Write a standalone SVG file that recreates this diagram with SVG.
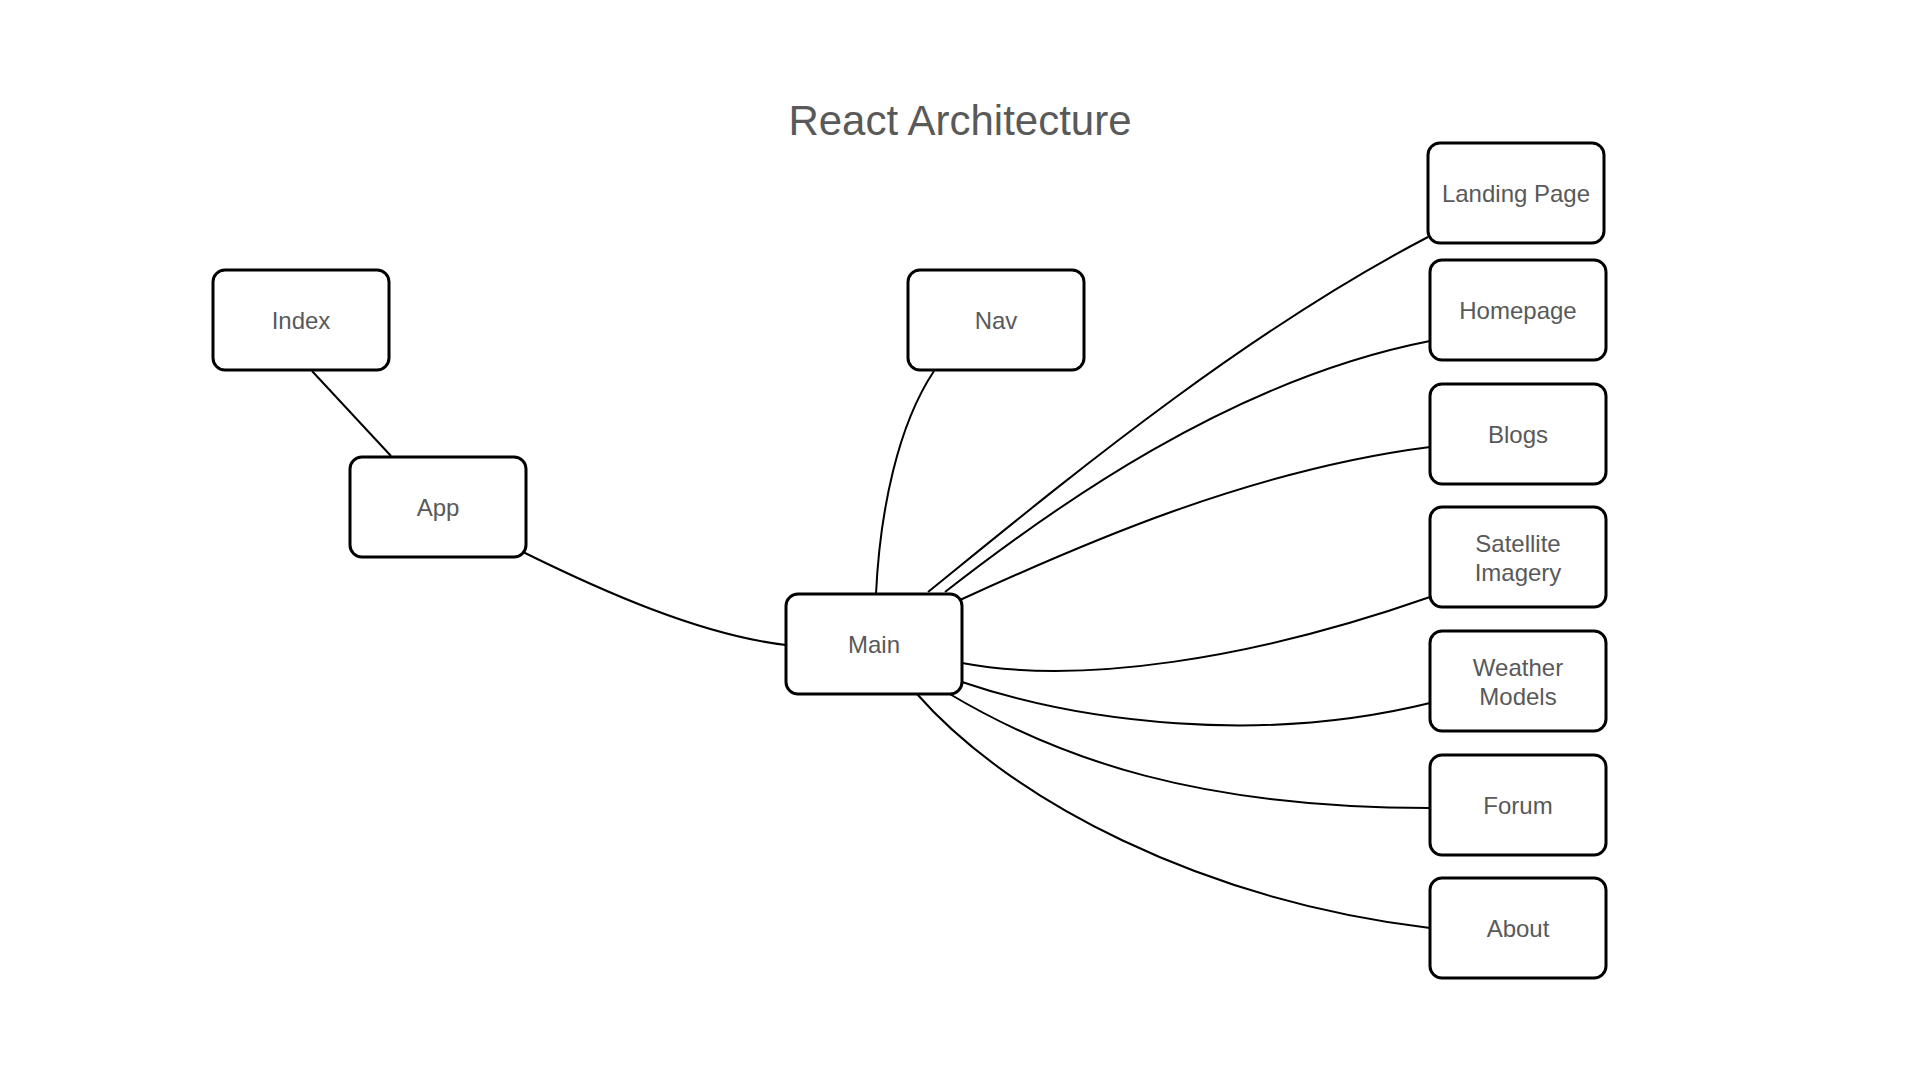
<svg xmlns="http://www.w3.org/2000/svg" width="1920" height="1080" viewBox="0 0 1920 1080">
<style>
.box{fill:#fff;stroke:#000;stroke-width:3}
.lbl{font-family:"Liberation Sans",Arial,sans-serif;font-size:24px;fill:#595959;text-anchor:middle}
.title{font-family:"Liberation Sans",Arial,sans-serif;font-size:42px;fill:#595959;text-anchor:middle}
.edge{fill:none;stroke:#000;stroke-width:2}
</style>
<rect width="1920" height="1080" fill="#fff"/>
<text class="title" x="960" y="135">React Architecture</text>
<g id="connectors">
<path class="edge" d="M312,371 L391,456"/>
<path class="edge" d="M523,552 C600,590 700,635 786,645"/>
<path class="edge" d="M934,371 C898,425 880,510 876,594"/>
<path class="edge" d="M928,592 C1060,485 1240,335 1428,237"/>
<path class="edge" d="M945,592 C1050,510 1230,380 1430,341"/>
<path class="edge" d="M960,600 C1080,545 1250,470 1430,447"/>
<path class="edge" d="M962,663 C1080,685 1250,660 1430,597"/>
<path class="edge" d="M962,682 C1080,722 1260,745 1430,703"/>
<path class="edge" d="M948,693 C1060,760 1200,808 1430,808"/>
<path class="edge" d="M917,694 C1010,800 1200,900 1430,928"/>
</g>
<g id="index"><rect class="box" x="213" y="270" width="176" height="100" rx="12"/><text class="lbl" x="301" y="329">Index</text></g>
<g id="app"><rect class="box" x="350" y="457" width="176" height="100" rx="12"/><text class="lbl" x="438" y="516">App</text></g>
<g id="nav"><rect class="box" x="908" y="270" width="176" height="100" rx="12"/><text class="lbl" x="996" y="329">Nav</text></g>
<g id="main"><rect class="box" x="786" y="594" width="176" height="100" rx="12"/><text class="lbl" x="874" y="653">Main</text></g>
<g id="landing"><rect class="box" x="1428" y="143" width="176" height="100" rx="12"/><text class="lbl" x="1516" y="202">Landing Page</text></g>
<g id="homepage"><rect class="box" x="1430" y="260" width="176" height="100" rx="12"/><text class="lbl" x="1518" y="319">Homepage</text></g>
<g id="blogs"><rect class="box" x="1430" y="384" width="176" height="100" rx="12"/><text class="lbl" x="1518" y="443">Blogs</text></g>
<g id="satellite"><rect class="box" x="1430" y="507" width="176" height="100" rx="12"/><text class="lbl" x="1518" y="552">Satellite</text><text class="lbl" x="1518" y="581">Imagery</text></g>
<g id="weather"><rect class="box" x="1430" y="631" width="176" height="100" rx="12"/><text class="lbl" x="1518" y="676">Weather</text><text class="lbl" x="1518" y="705">Models</text></g>
<g id="forum"><rect class="box" x="1430" y="755" width="176" height="100" rx="12"/><text class="lbl" x="1518" y="814">Forum</text></g>
<g id="about"><rect class="box" x="1430" y="878" width="176" height="100" rx="12"/><text class="lbl" x="1518" y="937">About</text></g>
</svg>
